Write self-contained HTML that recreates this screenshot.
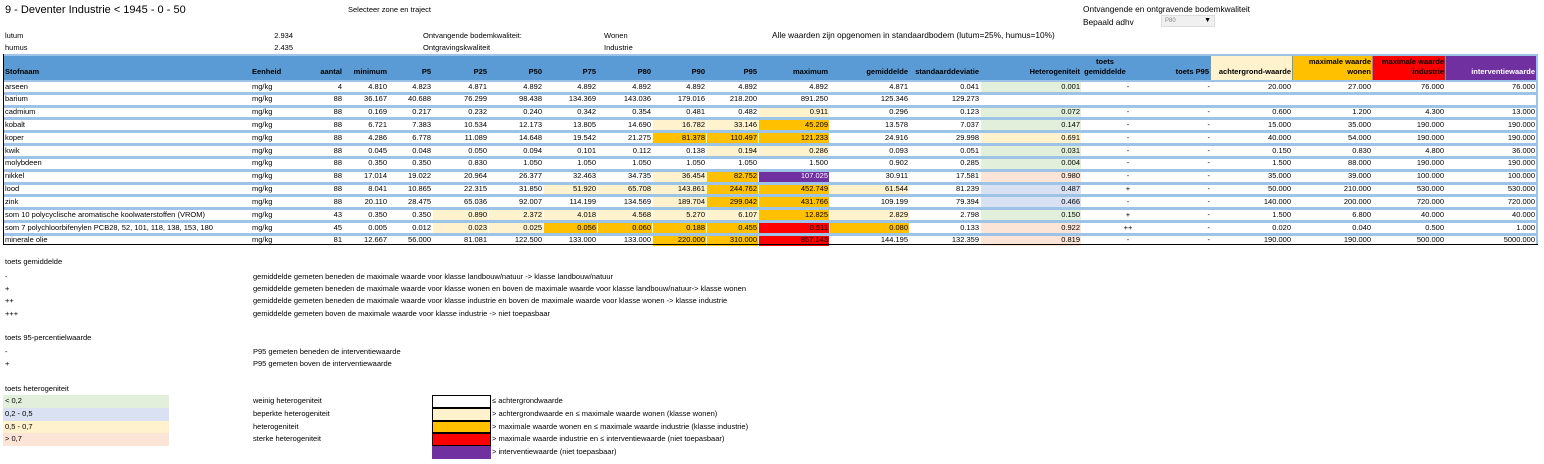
<!DOCTYPE html>
<html><head><meta charset="utf-8">
<style>
body{margin:0;width:1544px;height:464px;background:#fff;position:relative;overflow:hidden;font-family:"Liberation Sans",sans-serif;font-size:7.5px;color:#000}
.a{position:absolute;white-space:nowrap;line-height:10px}
.r{text-align:right}
.c{text-align:center}
</style></head><body>
<div class="a" style="left:5px;top:3px;font-size:11px;line-height:14px">9 - Deventer Industrie &lt; 1945 - 0 - 50</div>
<div class="a" style="left:348px;top:5px">Selecteer zone en traject</div>
<div class="a" style="left:5px;top:31px">lutum</div>
<div class="a r" style="left:243px;width:50px;top:31px">2.934</div>
<div class="a" style="left:5px;top:43px">humus</div>
<div class="a r" style="left:243px;width:50px;top:43px">2.435</div>
<div class="a" style="left:423px;top:31px">Ontvangende bodemkwaliteit:</div>
<div class="a" style="left:423px;top:43px">Ontgravingskwaliteit</div>
<div class="a" style="left:604px;top:31px">Wonen</div>
<div class="a" style="left:604px;top:43px">Industrie</div>
<div class="a" style="left:772px;top:30px;font-size:8.3px">Alle waarden zijn opgenomen in standaardbodem (lutum=25%, humus=10%)</div>
<div class="a" style="left:1083px;top:4px;font-size:8.3px">Ontvangende en ontgravende bodemkwaliteit</div>
<div class="a" style="left:1083px;top:17px;font-size:8.3px">Bepaald adhv</div>
<div class="a" style="left:1161px;top:15px;width:54px;height:12px;background:#f0f0f0;border:1px solid #ddd;box-sizing:border-box"><span style="position:absolute;left:3px;top:0;font-size:6px;color:#888">P80</span><span style="position:absolute;right:3px;top:0;font-size:7px">▼</span></div>

<div id="tbl"></div>
<div id="leg"></div>

<script>
const names=["arseen","barium","cadmium","kobalt","koper","kwik","molybdeen","nikkel","lood","zink","som 10 polycyclische aromatische koolwaterstoffen (VROM)","som 7 polychloorbifenylen PCB28, 52, 101, 118, 138, 153, 180","minerale olie"];
const aantal=["4","88","88","88","88","88","88","88","88","88","43","45","81"];
const minimum=["4.810","36.167","0.169","6.721","4.286","0.045","0.350","17.014","8.041","20.110","0.350","0.005","12.667"];
const p5=["4.823","40.688","0.217","7.383","6.778","0.048","0.350","19.022","10.865","28.475","0.350","0.012","56.000"];
const p25=["4.871","76.299","0.232","10.534","11.089","0.050","0.830","20.964","22.315","65.036","0.890","0.023","81.081"];
const p50=["4.892","98.438","0.240","12.173","14.648","0.094","1.050","26.377","31.850","92.007","2.372","0.025","122.500"];
const p75=["4.892","134.369","0.342","13.805","19.542","0.101","1.050","32.463","51.920","114.199","4.018","0.056","133.000"];
const p80=["4.892","143.036","0.354","14.690","21.275","0.112","1.050","34.735","65.708","134.569","4.568","0.060","133.000"];
const p90=["4.892","179.016","0.481","16.782","81.378","0.138","1.050","36.454","143.861","189.704","5.270","0.188","220.000"];
const p95=["4.892","218.200","0.482","33.146","110.497","0.194","1.050","82.752","244.762","299.042","6.107","0.455","310.000"];
const maximum=["4.892","891.250","0.911","45.209","121.233","0.286","1.500","107.025","452.749","431.766","12.825","0.511","857.143"];
const gemiddelde=["4.871","125.346","0.296","13.578","24.916","0.093","0.902","30.911","61.544","109.199","2.829","0.080","144.195"];
const stddev=["0.041","129.273","0.123","7.037","29.998","0.051","0.285","17.581","81.239","79.394","2.798","0.133","132.359"];
const hetero=["0.001","","0.072","0.147","0.691","0.031","0.004","0.980","0.487","0.466","0.150","0.922","0.819"];
const toetsGem=["-","","-","-","-","-","-","-","+","-","+","++","-"];
const toetsP95=["-","","-","-","-","-","-","-","-","-","-","-","-"];
const achtergrond=["20.000","","0.600","15.000","40.000","0.150","1.500","35.000","50.000","140.000","1.500","0.020","190.000"];
const maxWonen=["27.000","","1.200","35.000","54.000","0.830","88.000","39.000","210.000","200.000","6.800","0.040","190.000"];
const maxIndustrie=["76.000","","4.300","190.000","190.000","4.800","190.000","100.000","530.000","720.000","40.000","0.500","500.000"];
const interventie=["76.000","","13.000","190.000","190.000","36.000","190.000","100.000","530.000","720.000","40.000","1.000","5000.000"];
const classes=[
"wwwwwwwww","wwwwwwwww","wwwwwwyww","wwwwyyoww","wwwwoooww","wwwwwyyww","wwwwwwwww",
"wwwwyopww","wwyyyooyw","wwwwyooww","yyyyyyoyw","yyoooorow","wwwwoorww"];

const C={w:"#fff",y:"#fff2cc",o:"#ffc000",r:"#ff0000",p:"#7030a0"};
const hetColor=v=>v===""?"#fff":(+v<0.2?"#e2efda":+v<0.5?"#d9e1f2":+v<0.7?"#fff2cc":"#fce4d6");
const colL=[3,250,300,343,388,432,488,543,597,652,706,758,829,909,980,1081,1130,1210,1292,1372,1445];
const colR=[250,300,343,388,432,488,543,597,652,706,758,829,909,980,1081,1130,1210,1292,1372,1445,1536];
const heads1=["","","","","","","","","","","","","","","","toets","","","maximale waarde","maximale waarde",""];
const heads2=["Stofnaam","Eenheid","aantal","minimum","P5","P25","P50","P75","P80","P90","P95","maximum","gemiddelde","standaarddeviatie","Heterogeniteit","gemiddelde","toets P95","achtergrond-waarde","wonen","industrie","interventiewaarde"];
const headBg={17:"#fff2cc",18:"#ffc000",19:"#ff0000",20:"#7030a0"};

const tbl=document.getElementById('tbl');
function box(parent,l,t,w,h,bg){const d=document.createElement('div');d.className='a';d.style.cssText+=`left:${l}px;top:${t}px;width:${w}px;height:${h}px;background:${bg}`;parent.appendChild(d);return d;}
function txt(parent,s,l,w,t,align,color){const d=document.createElement('div');d.className='a '+(align||'');d.style.left=l+'px';d.style.width=w+'px';d.style.top=t+'px';if(color)d.style.color=color;d.textContent=s;parent.appendChild(d);return d;}

const top0=54,rowH=12.83,firstRow=79.5;
const bg=box(tbl,3,top0,1535,244-top0,"#9dc3e6");


const hb=box(tbl,3,top0+2,1533,firstRow-top0-2,"#5b9bd5");


for(let c=0;c<21;c++){
  if(headBg[c]){const h=box(tbl,colL[c]+1,top0+2,colR[c]-colL[c]-1,firstRow-top0-2,headBg[c]);
    
    }
  const col=c===20?"#fff":"#000";
  const al=c<2?'':(c===15?'c':'r');
  const l=c<2?colL[c]+2:colL[c];const w=c<2?200:colR[c]-colL[c]-1;
  if(heads1[c]){const t1=txt(tbl,heads1[c],l,w,top0+3,al,col);t1.style.fontWeight='bold';
    
    }
  const t2=txt(tbl,heads2[c],l,w,top0+13,al,col);t2.style.fontWeight='bold';
  
  
}
const colsData=[names,names.map(()=>"mg/kg"),aantal,minimum,p5,p25,p50,p75,p80,p90,p95,maximum,gemiddelde,stddev,hetero,toetsGem,toetsP95,achtergrond,maxWonen,maxIndustrie,interventie];
for(let i=0;i<names.length;i++){
  const y=firstRow+i*rowH+2.5, h=rowH-3;
  const rw=box(tbl,4,y,1532,h,"#fff");
  
  
  for(let c=0;c<21;c++){
    let color="#fff";
    if(c>=5&&c<=13)color=C[classes[i][c-5]];
    if(c===14)color=hetColor(hetero[i]);
    if(color!=="#fff"){const cb=box(tbl,colL[c]+1,y,colR[c]-colL[c]-1,h,color);
      
      }
    const v=colsData[c][i];if(v==="")continue;
    let l=c<2?colL[c]+2:colL[c], w=c<2?240:colR[c]-colL[c]-1;
    if(c===15){l=1110;w=36;}
    if(c===16){l=1170;w=40;}
    const t=txt(tbl,v,l,w,y-0.5,c<2?'':(c===15?'c':'r'),(c>=5&&c<=13&&classes[i][c-5]==='p')?'#fff':null);
    
    
  }
}
const lb=box(tbl,3,top0,1,244-top0,"#000");
const bb=box(tbl,3,244,1535,1,"#000");

const leg=document.getElementById('leg');
const legTexts=[
["toets gemiddelde","",257],
["-","gemiddelde gemeten beneden de maximale waarde voor klasse landbouw/natuur -> klasse landbouw/natuur",272],
["+","gemiddelde gemeten beneden de maximale waarde voor klasse wonen en boven de maximale waarde voor klasse landbouw/natuur-> klasse wonen",284],
["++","gemiddelde gemeten beneden de maximale waarde voor klasse industrie en boven de maximale waarde voor klasse wonen -> klasse industrie",296],
["+++","gemiddelde gemeten boven de maximale waarde voor klasse industrie -> niet toepasbaar",309],
["toets 95-percentielwaarde","",333],
["-","P95 gemeten beneden de interventiewaarde",347],
["+","P95 gemeten boven de interventiewaarde",359],
["toets heterogeniteit","",384]];
legTexts.forEach((r,k)=>{const a=txt(leg,r[0],5,200,r[2]);
 if(r[1]){const b=txt(leg,r[1],253,700,r[2]);}});
const hetLeg=[["< 0,2","weinig heterogeniteit","#e2efda"],["0,2 - 0,5","beperkte heterogeniteit","#d9e1f2"],["0,5 - 0,7","heterogeniteit","#fff2cc"],["> 0,7","sterke heterogeniteit","#fce4d6"]];
hetLeg.forEach((r,k)=>{const y=395+k*12.8;const b=box(leg,3,y,166,12.8,r[2]);
 const a=txt(leg,r[0],5,100,y+1);
 const c=txt(leg,r[1],253,170,y+1);});
const colLeg=[["≤ achtergrondwaarde","#fff"],["> achtergrondwaarde en ≤ maximale waarde wonen (klasse wonen)","#fff2cc"],["> maximale waarde wonen en ≤ maximale waarde industrie (klasse industrie)","#ffc000"],["> maximale waarde industrie en ≤ interventiewaarde (niet toepasbaar)","#ff0000"],["> interventiewaarde (niet toepasbaar)","#7030a0"]];
colLeg.forEach((r,k)=>{const y=395+k*12.8;const b=box(leg,432,y,59,12.8,r[1]);b.style.border='1px solid #000';b.style.boxSizing='border-box';
 if(k===4)b.style.border='none';
 
 const c=txt(leg,r[0],492,400,y+1);});
</script>
</body></html>
